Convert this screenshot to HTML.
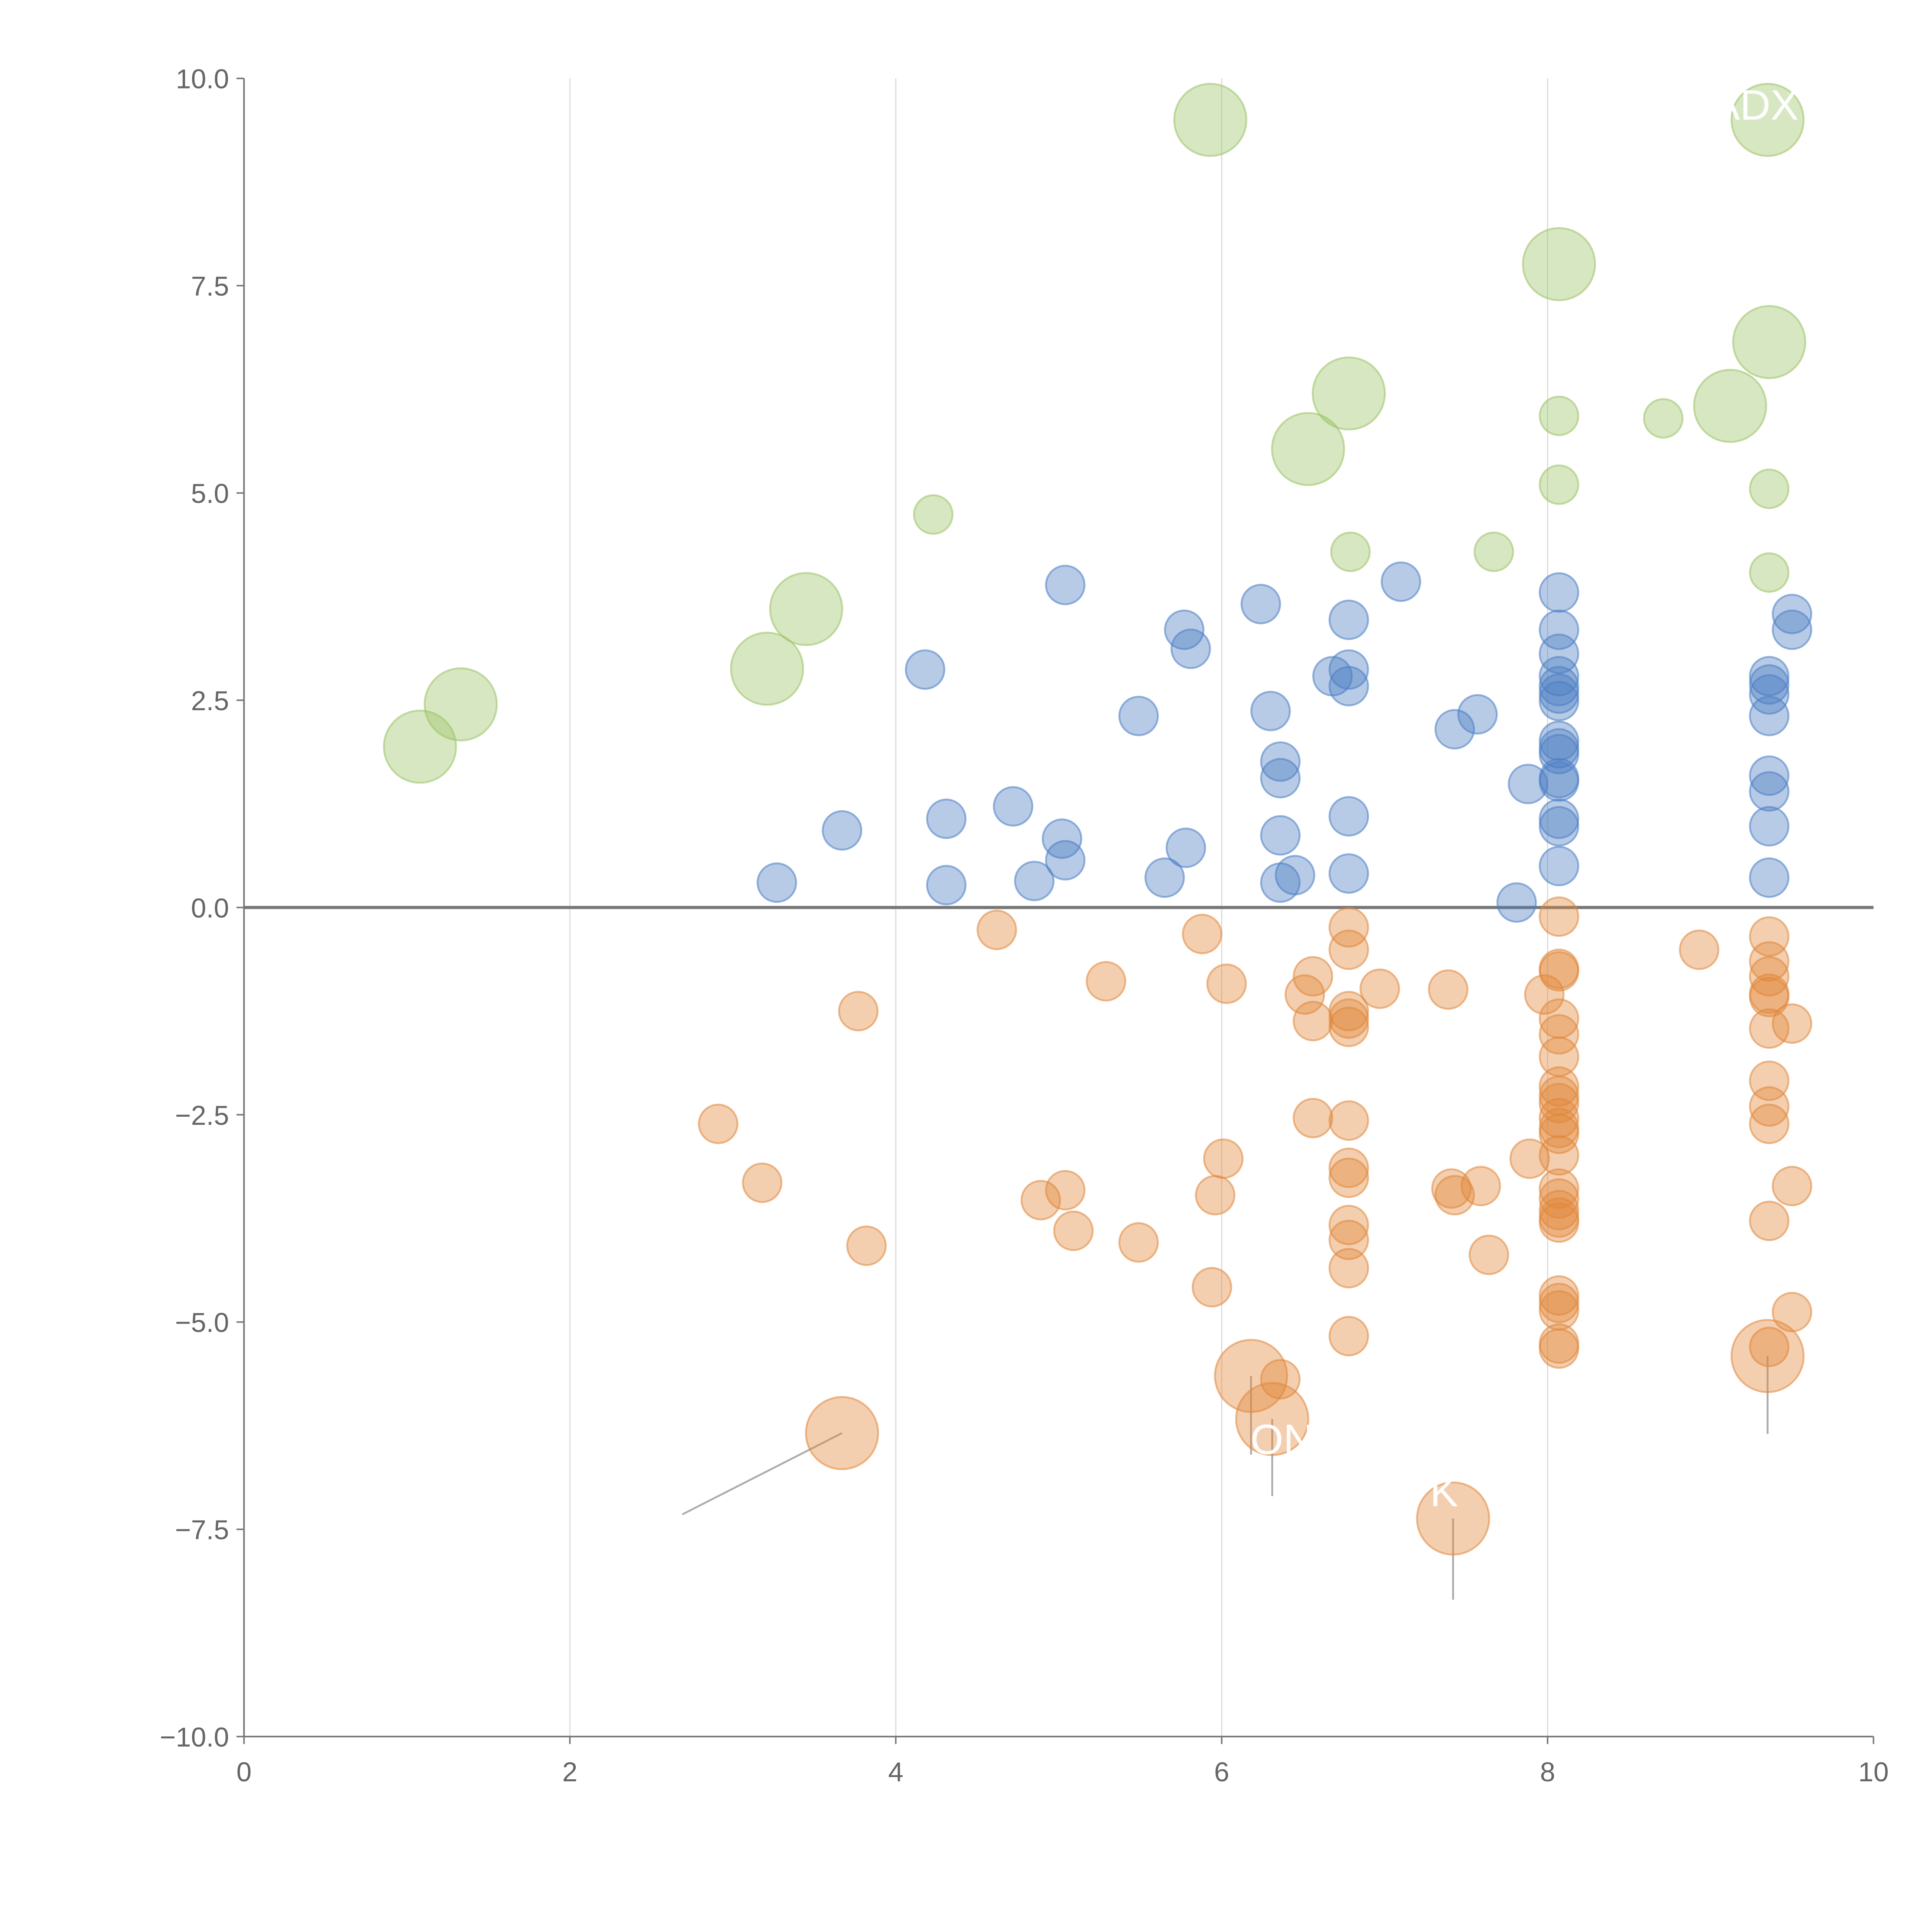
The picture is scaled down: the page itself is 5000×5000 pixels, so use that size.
<!DOCTYPE html>
<html><head><meta charset="utf-8">
<style>
html,body{margin:0;padding:0;background:#fff;}
svg{display:block;font-family:"Liberation Sans",sans-serif;}
</style></head>
<body>
<svg id="chart" width="5000" height="5000" viewBox="0 0 1552 1552" xmlns="http://www.w3.org/2000/svg">
<rect width="1552" height="1552" fill="#fff"/>
<g id="grid"></g>
<g id="axes"></g>
<g id="annot"></g>
<g id="marks"></g>
</svg>
<script>
const greenX=[5.93,9.35,8.07,9.36,6.78,9.12,6.53,8.07,8.71,8.07,9.36,4.23,6.79,7.67,9.36,3.45,3.21,1.33,1.08];
const greenY=[9.5,9.5,7.76,6.82,6.2,6.05,5.53,5.93,5.9,5.1,5.05,4.74,4.29,4.29,4.04,3.6,2.88,2.45,1.94];
const greenBig=[1,1,1,1,1,1,1,0,0,0,0,0,0,0,0,1,1,1,1];
const blueX=[5.04,7.10,6.24,6.78,5.77,5.81,4.18,6.68,6.78,6.78,6.30,5.49,7.43,7.57,6.36,6.36,7.88,6.78,4.72,4.31,3.67,5.02,5.78,6.36,5.04,6.45,6.36,5.65,4.85,4.31,3.27,6.78,7.81,
8.07,8.07,8.07,8.07,8.07,8.07,8.07,8.07,8.07,8.07,8.07,8.07,8.07,8.07,8.07,
9.36,9.36,9.36,9.36,9.36,9.36,9.36,9.36,9.50,9.50];
const blueY=[3.89,3.93,3.66,3.47,3.35,3.12,2.87,2.79,2.87,2.67,2.37,2.31,2.15,2.33,1.76,1.56,1.49,1.10,1.22,1.07,0.93,0.83,0.72,0.87,0.57,0.39,0.30,0.36,0.32,0.27,0.30,0.41,0.06,
3.80,3.35,3.06,2.79,2.67,2.49,2.58,2.01,1.92,1.85,1.56,1.52,1.07,0.98,0.50,
2.79,2.69,2.57,2.31,1.59,1.40,0.98,0.36,3.54,3.35];
const orangeX=[4.62,5.88,3.77,5.29,6.03,6.56,6.51,6.56,6.97,7.39,6.78,6.78,6.78,6.78,6.78,6.78,6.78,6.78,6.78,6.78,6.78,6.78,6.56,6.01,5.96,5.94,2.91,3.18,3.82,4.89,5.04,5.09,5.49,7.41,7.43,7.59,7.64,7.89,7.98,8.93,
8.07,8.07,8.07,8.07,8.07,8.07,8.07,8.07,8.07,8.07,8.07,8.07,8.07,8.07,8.07,8.07,8.07,8.07,8.07,8.07,8.07,8.07,8.07,
9.36,9.36,9.36,9.36,9.36,9.36,9.36,9.36,9.36,9.36,9.36,9.50,9.50,9.50,6.36,
3.67,6.18,6.31,7.42,9.35];
const orangeY=[-0.27,-0.32,-1.25,-0.89,-0.92,-0.83,-1.05,-1.37,-0.98,-0.99,-0.24,-0.51,-1.25,-1.34,-1.44,-2.57,-3.14,-3.26,-3.83,-4.01,-4.35,-5.17,-2.54,-3.03,-3.47,-4.58,-2.61,-3.32,-4.08,-3.53,-3.41,-3.90,-4.04,-3.39,-3.47,-3.36,-4.19,-3.03,-1.05,-0.51,
-0.11,-0.74,-0.77,-1.34,-1.53,-1.80,-2.16,-2.27,-2.36,-2.54,-2.66,-2.73,-2.99,-3.39,-3.51,-3.65,-3.74,-3.80,-4.68,-4.77,-4.86,-5.26,-5.32,
-0.35,-0.65,-0.83,-1.04,-1.08,-1.46,-2.09,-2.40,-2.61,-3.78,-5.30,-1.40,-3.36,-4.88,-5.69,
-6.34,-5.65,-6.17,-7.37,-5.41];
const orangeBig=orangeX.map((v,i)=>i>=orangeX.length-5?1:0);
const xTicks=[0,2,4,6,8,10];
const yTicks=[10,7.5,5,2.5,0,-2.5,-5,-7.5,-10];

const NS="http://www.w3.org/2000/svg";
const X0=196,X1=1505,Y0=1395,Y1=63;
const sx=v=>X0+(v-0)/10*(X1-X0);
const sy=v=>Y0-(v+10)/20*(Y0-Y1);
function mk(tag,attrs,parent){const e=document.createElementNS(NS,tag);for(const k in attrs)e.setAttribute(k,attrs[k]);parent.appendChild(e);return e;}
const grid=document.getElementById('grid'),axes=document.getElementById('axes'),marks=document.getElementById('marks'),annot=document.getElementById('annot');
xTicks.forEach(t=>{
  if(t>0&&t<10){const g=mk('line',{x1:sx(t),x2:sx(t),y1:Y1,y2:Y0,stroke:'#ddd','stroke-width':1},grid);
  
  }
  const tk=mk('line',{x1:sx(t),x2:sx(t),y1:Y0,y2:Y0+6,stroke:'#777','stroke-width':1.2},axes);
  
  
  const tx=mk('text',{x:sx(t),y:Y0+36,'text-anchor':'middle','font-size':22,fill:'#666'},axes);
  tx.textContent=t;
  
  
});
yTicks.forEach(t=>{
  const tk=mk('line',{x1:X0-6,x2:X0,y1:sy(t),y2:sy(t),stroke:'#777','stroke-width':1.2},axes);
  
  
  const tx=mk('text',{x:X0-12,y:sy(t)+8,'text-anchor':'end','font-size':22,fill:'#666'},axes);
  tx.textContent=(t<0?'\u2212':'')+Math.abs(t).toFixed(1);
  
  
});
const la=mk('line',{x1:X0,x2:X0,y1:Y1,y2:Y0,stroke:'#777','stroke-width':1.3},axes);


const ba=mk('line',{x1:X0,x2:X1,y1:Y0,y2:Y0,stroke:'#777','stroke-width':1.3},axes);


const zl=mk('line',{x1:X0,x2:X1,y1:sy(0),y2:sy(0),stroke:'#777','stroke-width':2.5},axes);



function series(xs,ys,big,color,name){
  xs.forEach((x,i)=>{
    const r=big[i]?29:15.5;
    const c=mk('circle',{cx:sx(x),cy:sy(ys[i]),r:r,fill:color,'fill-opacity':0.4,stroke:color,'stroke-opacity':0.55,'stroke-width':1.5},marks);
    
    
  });
}
series(blueX,blueY,blueX.map(()=>0),'#4a7ec4','blue-point');
series(orangeX,orangeY,orangeBig,'#e0873a','orange-point');
series(greenX,greenY,greenBig,'#9bc266','green-point');

// leader lines for large orange bubbles
const lead=[[3.67,-6.34,2.69,-7.32],[6.18,-5.65,6.18,-6.6],[6.31,-6.17,6.31,-7.1],[7.42,-7.37,7.42,-8.35],[9.35,-5.41,9.35,-6.35]];
lead.forEach(l=>{
  const e=mk('line',{x1:sx(l[0]),y1:sy(l[1]),x2:sx(l[2]),y2:sy(l[3]),stroke:'#999','stroke-opacity':0.8,'stroke-width':1.5},annot);
  
  
});
[['ADX',1410,96],['ON',1030,1168],['K',1160,1210]].forEach(a=>{
  const t=mk('text',{x:a[1],y:a[2],'font-size':34,fill:'#fff','text-anchor':'middle'},document.getElementById('chart'));
  t.textContent=a[0];
  
  
});
</script>
</body></html>
